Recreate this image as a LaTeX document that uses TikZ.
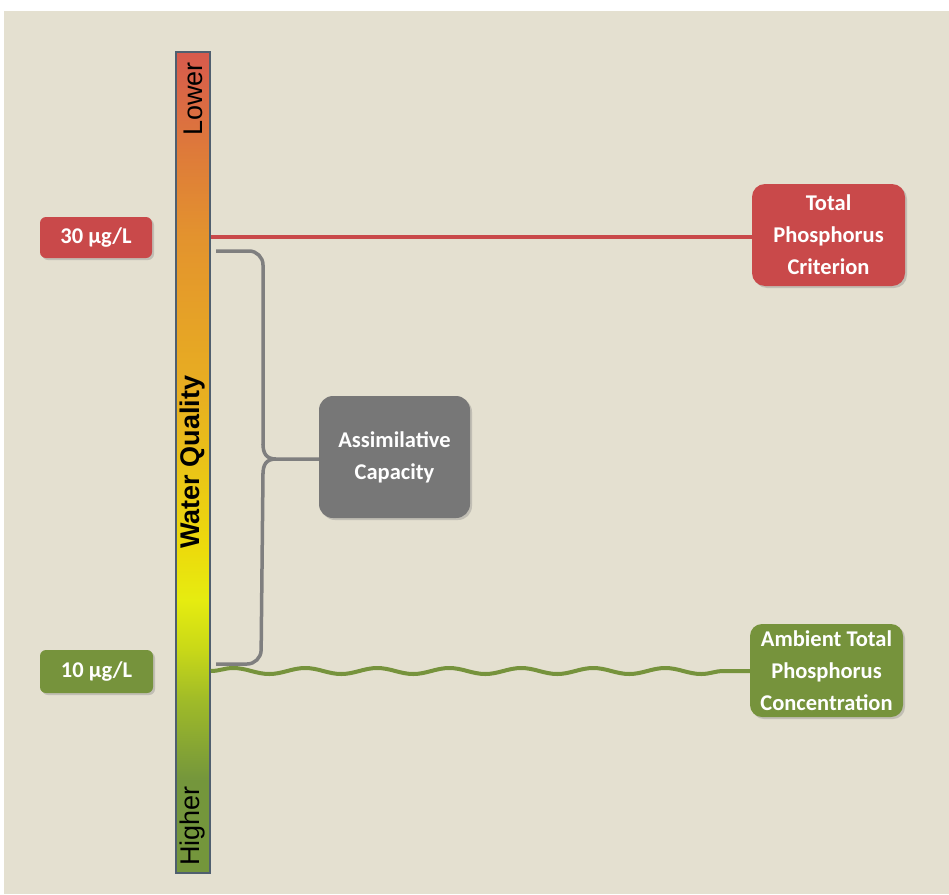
\documentclass[tikz,border=0pt]{standalone}
\usepackage{fontspec}
\setmainfont{Carlito}
\newfontfamily\barfont{Liberation Sans}
\usetikzlibrary{shadows,decorations.pathmorphing}
\definecolor{bgc}{HTML}{E4E0D0}
\definecolor{redc}{HTML}{C9494A}
\definecolor{greenc}{HTML}{76933C}
\definecolor{grayc}{HTML}{777777}
\definecolor{bracec}{HTML}{7F7F7F}
\definecolor{barborder}{HTML}{4F5F6F}
\definecolor{wqr}{HTML}{D75A4D}
\definecolor{wqo1}{HTML}{DE7A3A}
\definecolor{wqo2}{HTML}{E3932E}
\definecolor{wqo3}{HTML}{E8B020}
\definecolor{wqy1}{HTML}{ECDB0C}
\definecolor{wqy}{HTML}{E6EC10}
\definecolor{wqyg}{HTML}{C8D818}
\definecolor{wqg1}{HTML}{A0BB28}
\definecolor{wqg}{HTML}{74963C}
% path bbox maps to 25bp..75bp; position p (0..821 from bottom) -> 25 + p*50/821
\pgfdeclareverticalshading{wq}{100bp}{color(0bp)=(wqg); color(25bp)=(wqg); color(30.66bp)=(wqg); color(35.54bp)=(wqg1); color(38.58bp)=(wqyg); color(41.63bp)=(wqy); color(44.67bp)=(wqy1); color(53.81bp)=(wqo3); color(63.73bp)=(wqo2); color(69.03bp)=(wqo1); color(75bp)=(wqr); color(100bp)=(wqr)}
\tikzset{
  box/.style={rounded corners=#1, text=white, align=center, inner sep=0pt,
    font=\fontsize{22.5}{32}\selectfont\bfseries,
    drop shadow={opacity=0.35, shadow xshift=2pt, shadow yshift=-2pt}},
  redbox/.style={box=#1, fill=redc},
  greenbox/.style={box=#1, fill=greenc},
  graybox/.style={box=#1, fill=grayc},
  bartext/.style={rotate=90, font=\barfont\fontsize{27}{27}\selectfont, text=black, inner sep=0pt},
  redline/.style={draw=redc, line width=4.5pt},
  greenline/.style={draw=greenc, line width=4pt, decorate,
    decoration={snake, amplitude=3pt, segment length=72pt, post length=4pt}},
  bracel/.style={draw=bracec, line width=3.5pt, line join=round}
}
\begin{document}
\begin{tikzpicture}[x=1pt,y=-1pt]
\useasboundingbox (0,0) rectangle (949,894);
\fill[white] (0,0) rectangle (949,894);
\fill[bgc] (4,11) rectangle (949,894);
% bar
\node[draw=barborder, line width=1.5pt, shading=wq, minimum width=34pt, minimum height=821pt, inner sep=0pt] (bar) at (193,462.5) {};
\node[bartext, anchor=east] (lower) at (193,62) {Lower};
\node[bartext, font=\barfont\fontsize{27}{27}\selectfont\bfseries] (wq) at (193,462) {Water Quality};
\node[bartext, anchor=west] (higher) at (193,866) {Higher};
% boxes
\node[redbox=6pt, minimum width=112pt, minimum height=41pt] (r30) at (96,237.5) {30 µg/L};
\node[greenbox=6pt, minimum width=113pt, minimum height=43pt] (g10) at (96.5,671.5) {10 µg/L};
\node[redbox=13pt, minimum width=153pt, minimum height=102pt] (tpc) at (828.5,235) {Total\\Phosphorus\\Criterion};
\node[graybox=14pt, minimum width=151pt, minimum height=122pt] (ac) at (394.5,457) {Assimilative\\Capacity};
\node[greenbox=12pt, minimum width=153pt, minimum height=93pt] (amb) at (826.5,670.5) {Ambient Total\\Phosphorus\\Concentration};
% lines
\coordinate (rl) at (bar.east |- 0,237);
\draw[redline] (rl) -- (tpc.west |- rl);
\coordinate (gl) at (bar.east |- 0,671);
\draw[greenline] (gl) -- (amb.west |- gl);
% brace
\coordinate (bt) at (216,251);
\coordinate (bb) at (216,664);
\coordinate (tip) at (ac.west |- 0,459);
\draw[bracel, rounded corners=14pt] (bt) -- (263,251) -- (263,445);
\draw[bracel] (263,444) .. controls (263,453) and (266,459) .. (276,459) -- (tip);
\draw[bracel] (263,474) .. controls (263,465) and (266,459) .. (276,459);
\draw[bracel, rounded corners=14pt] (bb) -- (261,664) -- (263,473);
\end{tikzpicture}
\end{document}
